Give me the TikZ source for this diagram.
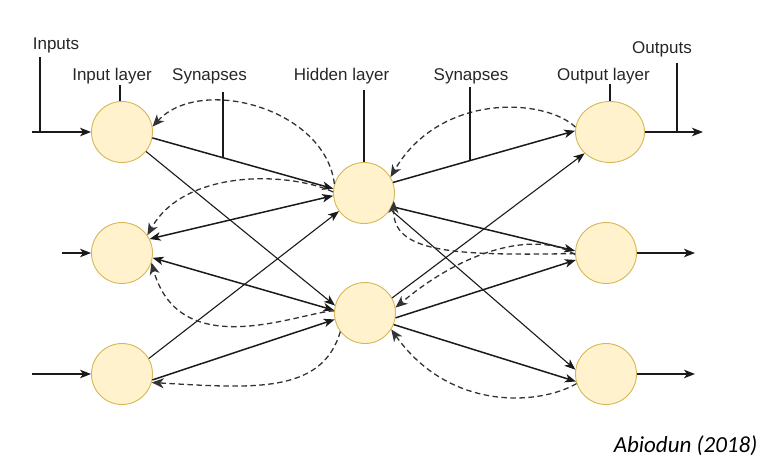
\documentclass[tikz,border=0pt]{standalone}
\usepackage{fontspec}
\setmainfont{Liberation Sans}
\newfontfamily\citefont{Carlito}
\usetikzlibrary{arrows.meta,shapes.geometric}
\definecolor{nfill}{HTML}{FFF2CC}
\definecolor{nborder}{HTML}{D6B656}
\definecolor{ln}{HTML}{1A1A1A}
\definecolor{dln}{HTML}{333333}
\begin{document}
\begin{tikzpicture}[x=1pt,y=-1pt,
  neuron/.style={circle,draw=nborder,fill=nfill,line width=0.9pt,minimum size=61pt,inner sep=0pt},
  oval/.style={ellipse,draw=nborder,fill=nfill,line width=0.9pt,minimum width=69pt,minimum height=61pt,inner sep=0pt},
  tip/.tip={Stealth[length=11pt,width=8.5pt,inset=3pt]},
  fbtip/.tip={Stealth[length=12pt,width=10pt,inset=3.5pt]},
  conn/.style={draw=ln,line width=1.5pt,-tip},
  thinconn/.style={draw=ln,line width=1.1pt,-tip},
  biconn/.style={draw=ln,line width=1.5pt,tip-tip},
  fb/.style={draw=dln,line width=1.3pt,dash pattern=on 5.5pt off 3.5pt,-fbtip},
  plain/.style={draw=ln,line width=1.3pt},
  lbl/.style={font=\fontsize{17}{20}\selectfont,text=black!85,inner sep=0pt,anchor=base}
]
\useasboundingbox (0,0) rectangle (778,474);

% neurons
\node[neuron] (I1) at (122,132) {};
\node[neuron] (I2) at (122,253) {};
\node[neuron] (I3) at (122,374) {};
\node[neuron] (H1) at (364,193) {};
\node[neuron] (H2) at (365,313) {};
\node[oval]   (O1) at (610,132) {};
\node[neuron] (O2) at (606,253) {};
\node[neuron] (O3) at (606,374) {};

% labels
\node[lbl] (tIn)   at (56,49)   {Inputs};
\node[lbl] (tInL)  at (112,80.5) {Input layer};
\node[lbl] (tSynL) at (209.5,80.5) {Synapses};
\node[lbl] (tHid)  at (341.5,80.5) {Hidden layer};
\node[lbl] (tSynR) at (471,80.5) {Synapses};
\node[lbl] (tOutL) at (603.5,80.5) {Output layer};
\node[lbl] (tOut)  at (662,53)  {Outputs};
\node[anchor=base,inner sep=0pt,font=\citefont\itshape\fontsize{23}{26}\selectfont] (cite) at (685.5,452) {Abiodun (2018)};

% forward solid connections
\path[conn]     (I1.-11) -- (H1.172);
\path[thinconn] (I1.-39) -- (H2.166);
\path[biconn]   (I2.27)  -- (H1.185);
\path[biconn]   (I2.-9)  -- (H2.175);
\path[thinconn] (I3.30)  -- (H1.-144);
\path[conn]     (I3.-11) -- (H2.192);
\path[conn]     (H1.20)  -- (O1.178);
\path[conn]     (H1.-26) -- (O2.176);
\path[thinconn] (H1.-32) -- (O3.172);
\path[thinconn] (H2.29)  -- (O1.220);
\path[conn]     (H2.-9)  -- (O2.193);
\path[conn]     (H2.-22) -- (O3.194);

% feedback dashed connections
\path[fb] (H1.163) .. controls (325,108) and (200,75) .. (I1.10);
\path[fb] (H1.178) .. controls (290,172) and (185,168) .. (I2.35);
\path[fb] (H2.176) .. controls (300,312) and (180,365) .. (I2.-18);
\path[fb] (H2.217) .. controls (322,395) and (250,388) .. (I3.-16);
\path[fb] (O1.172) .. controls (545,98) and (440,92) .. (H1.31);
\path[fb] (O2.181) .. controls (450,256) and (392,252) .. (H1.-15);
\path[fb] (O2.183) .. controls (540,232) and (470,245) .. (H2.10);
\path[fb] (O3.198) .. controls (540,405) and (450,412) .. (H2.-32);

% input lines
\coordinate (inA) at (32,132);
\coordinate (inTop) at (40,57);
\coordinate (inB) at (62,253);
\coordinate (inC) at (32,374);
\path[conn] (inA) -- (I1.west);
\path[plain] (inTop) -- (inTop |- inA);
\path[conn] (inB) -- (I2.west);
\path[conn] (inC) -- (I3.west);

% output lines
\coordinate (outA) at (703,132);
\coordinate (outTop) at (677,63);
\coordinate (outB) at (695,253);
\coordinate (outC) at (695,374);
\path[conn] (O1.east) -- (outA);
\path[plain] (outTop) -- (outTop |- outA);
\path[conn] (O2.east) -- (outB);
\path[conn] (O3.east) -- (outC);

% label leader lines
\coordinate (inLTop) at (120,85);
\path[plain] (inLTop) -- (inLTop |- I1.north);
\coordinate (hidTop) at (364,90);
\path[plain] (hidTop) -- (H1.north);
\coordinate (outLTop) at (610,84);
\path[plain] (outLTop) -- (O1.north);
\path (I1.-11) -- coordinate[pos=0.392] (synL) (H1.172);
\coordinate (synLTop) at (223,92);
\path[plain] (synLTop) -- (synLTop |- synL);
\path (H1.20) -- coordinate[pos=0.423] (synR) (O1.178);
\coordinate (synRTop) at (470,87);
\path[plain] (synRTop) -- (synRTop |- synR);
\end{tikzpicture}
\end{document}
